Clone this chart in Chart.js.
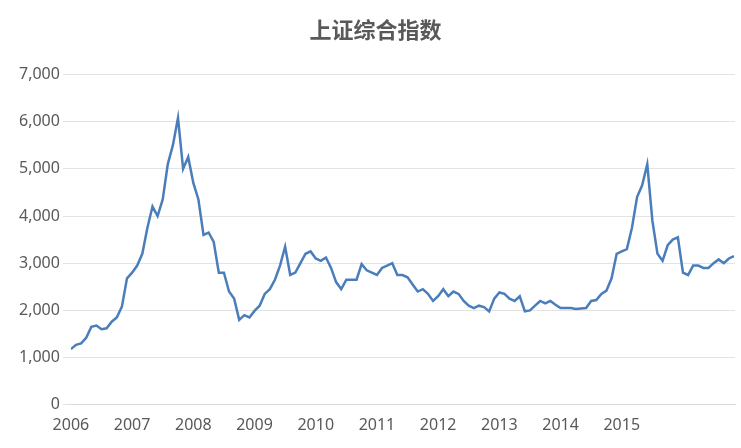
<!DOCTYPE html>
<html>
<head>
<meta charset="utf-8">
<script src="https://cdn.jsdelivr.net/npm/chart.js@4/dist/chart.umd.min.js"></script>
<style>
  body { margin: 0; background: #fff; }
  #wrap { width: 741px; height: 448px; }
</style>
</head>
<body>
<div id="wrap"><canvas id="c"></canvas></div>
<script>
// monthly closes (Jan..Dec)
const v2006 = [1180, 1270, 1300, 1420, 1650, 1680, 1600, 1620, 1760, 1850, 2080, 2680];
const v2007 = [2800, 2950, 3200, 3750, 4200, 4000, 4350, 5100, 5500, 6080, 5000, 5250];
const v2008 = [4700, 4350, 3600, 3650, 3450, 2800, 2800, 2400, 2250, 1800, 1900, 1850];
const v2009 = [1990, 2100, 2350, 2450, 2650, 2950, 3350, 2750, 2800, 3000, 3200, 3250];
const v2010 = [3100, 3050, 3120, 2900, 2600, 2450, 2650, 2650, 2650, 2980, 2850, 2800];
const v2011 = [2750, 2900, 2950, 3000, 2750, 2750, 2700, 2550, 2400, 2450, 2350, 2200];
const v2012 = [2300, 2450, 2300, 2400, 2350, 2200, 2100, 2050, 2100, 2070, 1980, 2250];
const v2013 = [2380, 2350, 2250, 2200, 2300, 1980, 2000, 2100, 2200, 2150, 2200, 2120];
const v2014 = [2050, 2050, 2050, 2030, 2040, 2050, 2200, 2220, 2350, 2420, 2680, 3200];
const v2015 = [3250, 3300, 3750, 4400, 4650, 5100, 3900, 3200, 3050, 3380, 3500, 3550];
const v2016 = [2800, 2750, 2950, 2950, 2900, 2900, 3000, 3080, 3000, 3100, 3150];
const years = [2006, 2007, 2008, 2009, 2010, 2011, 2012, 2013, 2014, 2015, 2016];
const series = [v2006, v2007, v2008, v2009, v2010, v2011, v2012, v2013, v2014, v2015, v2016];

const points = [];
years.forEach((y, i) => {
  series[i].forEach((v, m) => points.push({ x: y + m / 12, y: v }));
});

new Chart(document.getElementById("c"), {
  type: "line",
  data: {
    datasets: [{
      data: points,
      borderColor: "#4a7ebb",
      borderWidth: 2.5,
      pointRadius: 0,
      tension: 0,
    }],
  },
  options: {
    responsive: true,
    maintainAspectRatio: false,
    animation: false,
    layout: { padding: { left: 16, right: 6, bottom: 10 } },
    plugins: {
      legend: { display: false },
      tooltip: { enabled: false },
      title: {
        display: true,
        text: "上证综合指数",
        color: "#595959",
        font: { size: 22, weight: "bold", family: "Noto Sans CJK SC" },
        padding: { top: 16, bottom: 32 },
      },
    },
    scales: {
      x: {
        type: "linear",
        min: 2006,
        max: 2016.85,
        grid: { display: false, drawTicks: true },
        border: { color: "#d9d9d9" },
        ticks: {
          stepSize: 1,
          autoSkip: false,
          color: "#595959",
          font: { size: 16, family: "Noto Sans" },
          callback: (v) => (Number.isInteger(v) ? String(v) : ""),
          maxRotation: 0,
        },
      },
      y: {
        min: 0,
        max: 7000,
        grid: { color: "#e3e3e3" },
        border: { display: false },
        ticks: {
          stepSize: 1000,
          color: "#595959",
          font: { size: 16, family: "Noto Sans" },
          callback: (v) => v.toLocaleString("en-US"),
        },
      },
    },
  },
});
</script>
</body>
</html>
